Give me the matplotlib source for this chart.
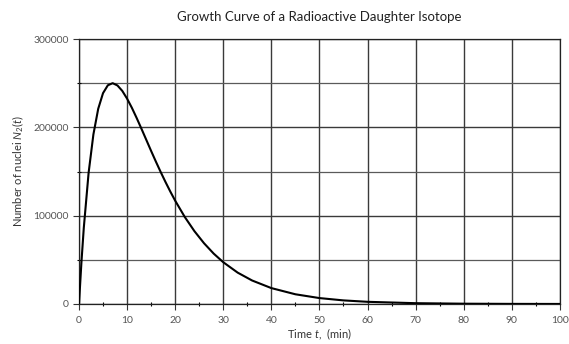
import matplotlib
matplotlib.use("Agg")
import matplotlib.pyplot as plt
from matplotlib.ticker import MultipleLocator

# values
time_min = [0, 0.5, 1, 2, 3, 4, 5, 6, 7, 8, 9, 10, 11, 12, 13, 14, 15, 16, 17, 18, 19,
            20, 22, 24, 26, 28, 30, 33, 36, 40, 45, 50, 55, 60, 70, 80, 90, 100]
nuclei = [0, 46400, 86100, 148400, 192000, 221000, 238700, 247600, 250000, 247400,
          241300, 232500, 222100, 210500, 198300, 185800, 173300, 161100, 149300,
          138000, 127200, 117000, 98500, 82500, 68800, 57100, 47300, 35500, 26600,
          18000, 11000, 6700, 4070, 2470, 910, 335, 123, 45]

x_ticks = [0, 10, 20, 30, 40, 50, 60, 70, 80, 90, 100]
y_ticks = [0, 100000, 200000, 300000]

plt.rcParams['font.family'] = ['Lato', 'DejaVu Sans']
plt.rcParams['mathtext.fontset'] = 'custom'
plt.rcParams['mathtext.rm'] = 'Lato'
plt.rcParams['mathtext.it'] = 'Lato:italic'

fig = plt.figure(figsize=(5.69, 3.44), dpi=100)
ax = fig.add_axes([0.1388, 0.1163, 0.8452, 0.7703])

ax.plot(time_min, nuclei, color='black', linewidth=1.5, zorder=3)

ax.set_xlim(0, 100)
ax.set_ylim(0, 300000)
ax.set_xticks(x_ticks)
ax.set_yticks(y_ticks)
ax.xaxis.set_minor_locator(MultipleLocator(5))
ax.yaxis.set_minor_locator(MultipleLocator(50000))

ax.grid(which='major', color='#3a3a3a', linewidth=1.0)
ax.grid(which='minor', axis='y', color='#5a5a5a', linewidth=0.9)

ax.tick_params(which='major', length=4, width=0.8, labelsize=7.5, colors='#333333',
               labelcolor='#555555', direction='out')
ax.tick_params(axis='x', which='major', pad=5)
ax.tick_params(which='minor', length=2.5, width=0.8, direction='inout')
for s in ax.spines.values():
    s.set_color('#222222')
    s.set_linewidth(0.9)

ax.set_title("Growth Curve of a Radioactive Daughter Isotope", fontsize=9.5, pad=13,
             color='#222222')
ax.set_xlabel(r"Time $t$,  (min)", fontsize=8, color='#333333', labelpad=1)
ax.set_ylabel(r"Number of nuclei $N_2(t)$", fontsize=8, color='#333333', labelpad=5)

fig.savefig("out.png", dpi=100)
